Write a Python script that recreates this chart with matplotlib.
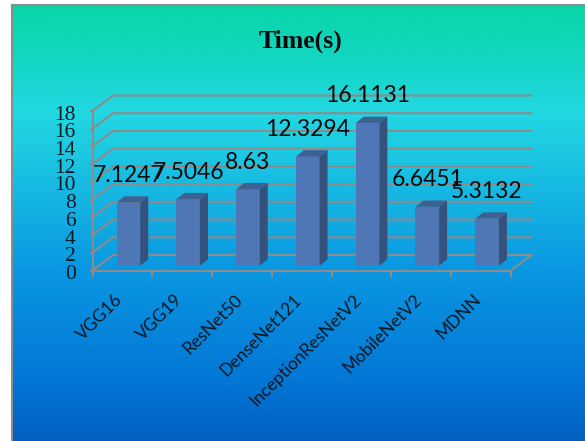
import numpy as np
import matplotlib
matplotlib.use("Agg")
import matplotlib.pyplot as plt
from matplotlib.colors import LinearSegmentedColormap
from matplotlib.transforms import ScaledTranslation

models = ["VGG16", "VGG19", "ResNet50", "DenseNet121",
          "InceptionResNetV2", "MobileNetV2", "MDNN"]
times = [7.1247, 7.5046, 8.63, 12.3294, 16.1131, 6.6451, 5.3132]
time_labels = ["7.1247", "7.5046", "8.63", "12.3294", "16.1131", "6.6451", "5.3132"]
y_ticks = list(range(0, 20, 2))

W, H = 585, 441
GRID = "#8c8c8c"
TEXT = "#101820"

# depth of the fake 3D box, in data units
WALL_DX, WALL_DY = 0.343, 1.75
BAR_DX, BAR_DY = 0.134, 0.71
BAR_W = 0.395
BAR_SHIFT = 0.1
BAR_BASE = 0.54


def px_axes(fig, left, top, right, bottom):
    return fig.add_axes([left / W, 1 - bottom / H, (right - left) / W, (bottom - top) / H])


fig = plt.figure(figsize=(W / 100, H / 100), dpi=100, facecolor="white")

# gradient panel behind the chart
bg = px_axes(fig, 12, 5, W + 2, H + 2)
stops = [(0.0, "#09d6a8"), (0.13, "#14d6c4"), (0.24, "#22d8e2"), (0.34, "#1cc8e2"),
         (0.6, "#0a98e2"), (0.85, "#0478d6"), (1.0, "#0060c0")]
cmap = LinearSegmentedColormap.from_list("panel", stops)
bg.imshow(np.linspace(0, 1, 440).reshape(-1, 1), cmap=cmap, aspect="auto", vmin=0, vmax=1)
bg.set_xticks([])
bg.set_yticks([])
for side, spine in bg.spines.items():
    spine.set_visible(side in ("left", "top"))
    spine.set_color(GRID)
    spine.set_linewidth(1.5)

ax = px_axes(fig, 92.5, 111, 511, 270.5)
ax.patch.set_alpha(0)
n = len(models)
ax.set_xlim(0, n)
ax.set_ylim(0, 18)

# side wall and back wall lines
for t in y_ticks:
    ax.plot([0, WALL_DX, n + WALL_DX], [t, t + WALL_DY, t + WALL_DY],
            color=GRID, lw=1.5, clip_on=False, zorder=1, solid_joinstyle="miter")
ax.plot([n, n + WALL_DX], [0, WALL_DY], color=GRID, lw=1.5, clip_on=False, zorder=1)

# bars: front face, then side and top faces
xs = np.arange(n) + 0.5 + BAR_SHIFT
ax.bar(xs, times, width=BAR_W, bottom=BAR_BASE, color="#4f77b6", zorder=3, clip_on=False)
for x, t in zip(xs, times):
    r = x + BAR_W / 2
    l = x - BAR_W / 2
    top = BAR_BASE + t
    ax.fill([r, r + BAR_DX, r + BAR_DX, r],
            [BAR_BASE, BAR_BASE + BAR_DY, top + BAR_DY, top],
            color="#34527c", lw=0, zorder=3, clip_on=False)
    ax.fill([l, l + BAR_DX, r + BAR_DX, r],
            [top, top + BAR_DY, top + BAR_DY, top],
            color="#3f6192", lw=0, zorder=3, clip_on=False)

for x, t, label in zip(xs, times, time_labels):
    ax.annotate(label, (x, BAR_BASE + t), xytext=(0, 19.4), textcoords="offset points",
                ha="center", va="center", fontsize=16.5, family="Lato",
                color="#0a0a0a", zorder=5, annotation_clip=False)

for side in ("top", "right"):
    ax.spines[side].set_visible(False)
for side in ("left", "bottom"):
    ax.spines[side].set_color(GRID)
    ax.spines[side].set_linewidth(1.5)

ax.set_yticks(y_ticks)
ax.set_yticklabels([str(t) for t in y_ticks], family="Liberation Serif", fontsize=15.5, color=TEXT)
ax.tick_params(axis="y", length=2, width=1.5, color=GRID, pad=10)
for tl in ax.get_yticklabels():
    tl.set_transform(tl.get_transform() + ScaledTranslation(0, -1.5 / 100, fig.dpi_scale_trans))

# ticks sit between categories, labels at the centres
ax.set_xticks(np.arange(n + 1))
ax.set_xticklabels([])
ax.tick_params(axis="x", which="major", length=4, width=1.5, color=GRID)
ax.set_xticks(np.arange(n) + 0.5, minor=True)
ax.set_xticklabels(models, minor=True, rotation=45, ha="right", va="top",
                   rotation_mode="anchor", family="Lato", fontsize=12.5, color=TEXT)
ax.tick_params(axis="x", which="minor", length=0, pad=15)
for tl in ax.get_xticklabels(minor=True):
    tl.set_transform(tl.get_transform() + ScaledTranslation(-8 / 100, 0, fig.dpi_scale_trans))

fig.text(301 / W, 1 - 41 / H, "Time(s)", ha="center", va="center",
         family="Liberation Serif", fontweight="bold", fontsize=18.5, color="#0a0a0a")

fig.savefig("out.png", dpi=100)
